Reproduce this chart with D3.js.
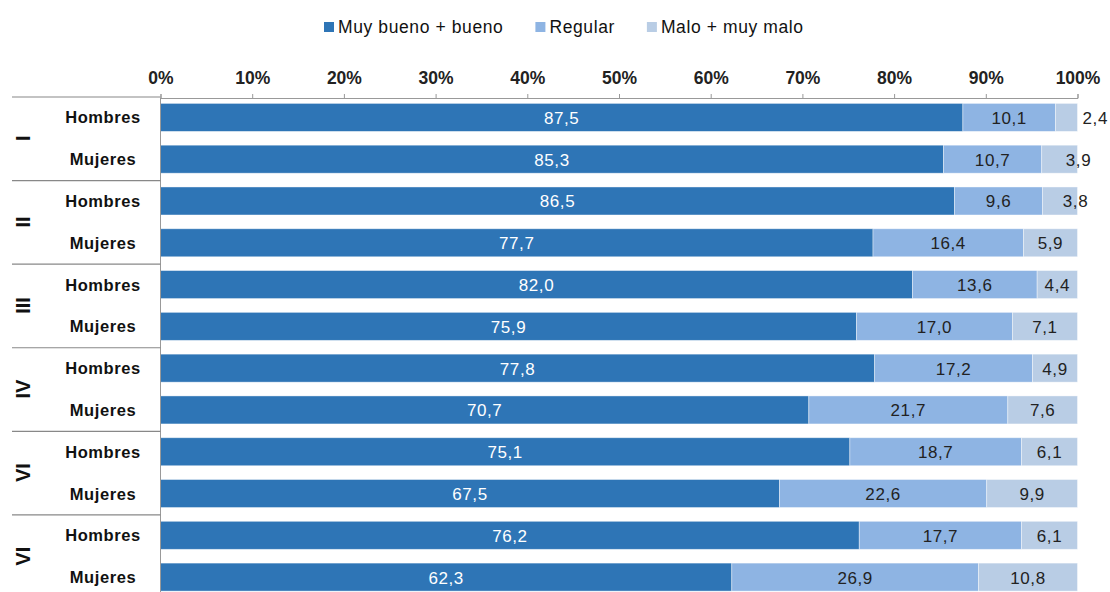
<!DOCTYPE html>
<html><head><meta charset="utf-8">
<script src="https://cdn.jsdelivr.net/npm/d3@7"></script>
<style>
html,body{margin:0;padding:0;background:#fff;}
svg{display:block;font-family:"Liberation Sans",Arial,Helvetica,sans-serif;}
</style></head>
<body>
<svg id="chart" width="1110" height="592"></svg>
<script>
const groups = ["I","II","III","IV","VI","VI"];
const sexes = ["Hombres","Mujeres"];
const seriesNames = ["Muy bueno + bueno","Regular","Malo + muy malo"];
const muyBueno = [87.5,85.3,86.5,77.7,82.0,75.9,77.8,70.7,75.1,67.5,76.2,62.3];
const regular  = [10.1,10.7, 9.6,16.4,13.6,17.0,17.2,21.7,18.7,22.6,17.7,26.9];
const malo     = [ 2.4, 3.9, 3.8, 5.9, 4.4, 7.1, 4.9, 7.6, 6.1, 9.9, 6.1,10.8];
const tickValues = [0,0.1,0.2,0.3,0.4,0.5,0.6,0.7,0.8,0.9,1.0];
const colors = ["#2e75b6","#8eb4e3","#b9cde5"];

const svg = d3.select("#chart");
const rows = [];
groups.forEach((g,gi)=>sexes.forEach((s,si)=>{
  const i = gi*2+si;
  rows.push({id:i, group:g, gi, sex:s, "Muy bueno + bueno":muyBueno[i], "Regular":regular[i], "Malo + muy malo":malo[i]});
}));

const x = d3.scaleLinear().domain([0,1]).range([160.5,1077.5]);
const y = d3.scaleBand().domain(rows.map(r=>r.id)).range([96.5,598]).paddingInner(0.33).paddingOuter(0.165);

const stacked = d3.stack().keys(seriesNames).offset(d3.stackOffsetExpand)(rows);
const fmt = v => d3.format(".1f")(v).replace(".",",");

// bars
const layers = svg.append("g").selectAll("g").data(stacked).join("g").attr("fill",(d,i)=>colors[i]);
layers.selectAll("rect").data(d=>d).join("rect")
  .attr("x",d=>x(d[0])).attr("width",d=>x(d[1])-x(d[0]))
  .attr("y",d=>y(d.data.id)).attr("height",y.bandwidth())
  .attr("stroke","#ffffff").attr("stroke-opacity",0.5).attr("stroke-width",0.8);

// labels
stacked.forEach((layer,li)=>{
  svg.append("g").selectAll("text").data(layer).join("text")
    .attr("x",d=>{
      const v = d.data[layer.key];
      if(li===2 && v<3) return x(d[1])+5;
      if(li===2 && v<4) return x(d[1])+ (v<3.85?-2:1);
      return (x(d[0])+x(d[1]))/2;
    })
    .attr("y",d=>y(d.data.id)+y.bandwidth()/2+6.5)
    .attr("text-anchor",d=>(li===2 && d.data[layer.key]<3)?"start":"middle")
    .attr("font-size","17px").attr("letter-spacing","0.6px")
    .attr("fill",li===0?"#ffffff":"#222222")
    .text(d=>fmt(d.data[layer.key]));
});

// top axis
const axis = d3.axisTop(x).tickValues(tickValues).tickFormat(d3.format(".0%")).tickSize(4).tickSizeOuter(4);
const ag = svg.append("g").attr("transform","translate(0,98)").call(axis);
ag.select(".domain").attr("stroke","#999");
ag.selectAll(".tick line").attr("stroke","#999");
ag.selectAll(".tick text").attr("font-size","17.5px").attr("font-weight","bold").attr("fill","#222")
  .attr("font-family","'Liberation Sans',Arial,sans-serif").attr("y",-14).attr("dy",0);

// left vertical axis line
svg.append("line").attr("x1",x(0)).attr("x2",x(0)).attr("y1",98).attr("y2",592).attr("stroke","#999");

// group separators
const step = y.step();
groups.forEach((g,gi)=>{
  const top = y(gi*2) - y.paddingOuter()*step;
  svg.append("line").attr("x1",12).attr("x2",x(0)).attr("y1",top+0.5).attr("y2",top+0.5).attr("stroke","#888").attr("stroke-width",1.2);
  const cy = (y(gi*2) + y(gi*2+1) + y.bandwidth())/2;
  svg.append("text").attr("transform",`translate(30,${cy}) rotate(-90)`)
    .attr("text-anchor","middle").attr("font-size","20px").attr("font-weight","bold").attr("fill","#111")
    .text(g);
});

// row labels
svg.append("g").selectAll("text").data(rows).join("text")
  .attr("x",103).attr("y",d=>y(d.id)+y.bandwidth()/2+6)
  .attr("text-anchor","middle").attr("font-size","16.5px").attr("font-weight","bold")
  .attr("letter-spacing","0.6px").attr("fill","#111").text(d=>d.sex);

// legend
const lg = svg.append("g");
let lx = 324;
seriesNames.forEach((s,i)=>{
  lg.append("rect").attr("x",lx).attr("y",22).attr("width",10).attr("height",10).attr("fill",colors[i]);
  const t = lg.append("text").attr("x",lx+14).attr("y",33).attr("font-size","17.5px").attr("letter-spacing","0.6px").attr("fill","#111").text(s);
  lx += 14 + t.node().getComputedTextLength() + 32;
});
</script>
</body></html>
